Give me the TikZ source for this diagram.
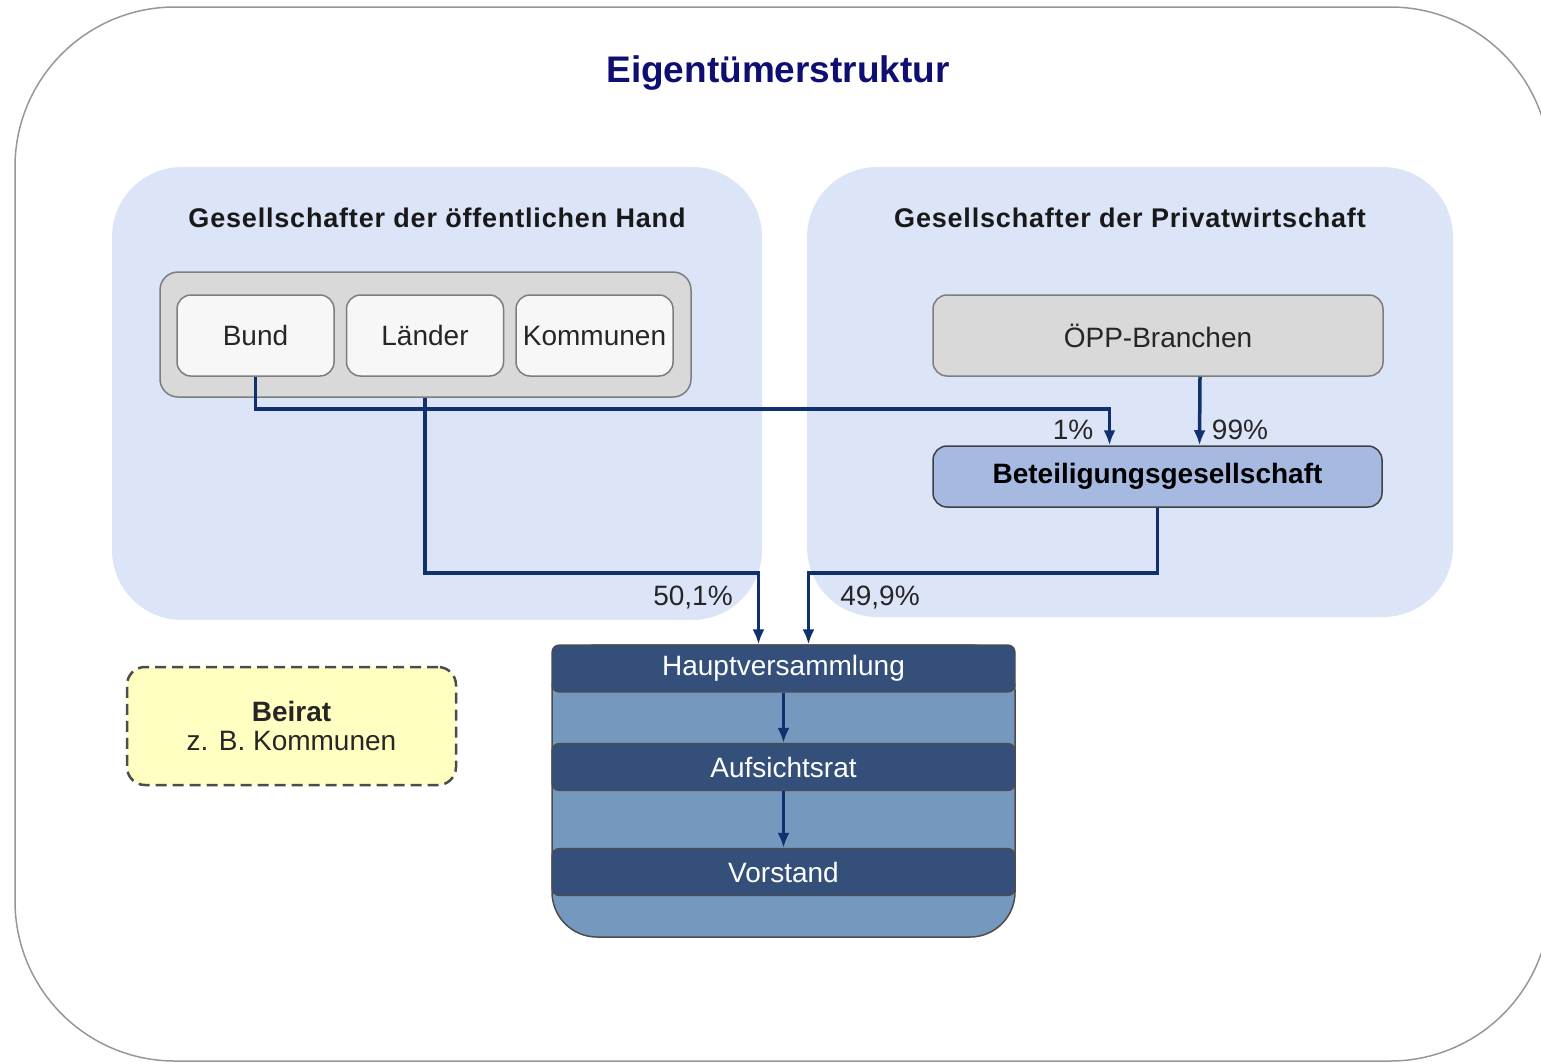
\documentclass[tikz,border=0pt]{standalone}
\usepackage{fontspec}
\setmainfont{Liberation Sans}
\newfontfamily\headfont[LetterSpace=3]{Liberation Sans}
\usetikzlibrary{arrows.meta}

\definecolor{panelblue}{RGB}{220,229,248}
\definecolor{groupgray}{RGB}{217,217,217}
\definecolor{memberwhite}{RGB}{247,247,247}
\definecolor{edgegray}{RGB}{125,125,125}
\definecolor{linkblue}{RGB}{16,48,112}
\definecolor{holdblue}{RGB}{166,185,225}
\definecolor{bodyblue}{RGB}{117,152,190}
\definecolor{bardark}{RGB}{52,80,122}
\definecolor{advyellow}{RGB}{255,255,194}
\definecolor{titleblue}{RGB}{14,14,115}

\tikzset{
  textsize/.style = {font=\fontsize{28}{33}\selectfont},
  panel/.style    = {shape=rectangle, rounded corners=70pt, fill=panelblue, inner sep=0pt},
  paneltitle/.style = {font=\headfont\fontsize{27}{32}\selectfont\bfseries, text=black!90},
  member/.style   = {shape=rectangle, rounded corners=14pt, draw=edgegray, line width=1.5pt,
                     fill=memberwhite, textsize, text=black!85, inner sep=3pt,
                     minimum width=157pt, minimum height=81pt},
  group/.style    = {member, fill=groupgray, rounded corners=18pt},
  holding/.style  = {member, fill=holdblue, draw=black!75, font=\fontsize{28}{33}\selectfont\bfseries,
                     text=black},
  bar/.style      = {shape=rectangle, rounded corners=7pt, draw=black!70, line width=1.2pt,
                     fill=bardark, text=white, textsize, minimum width=463pt, minimum height=47pt,
                     inner sep=0pt},
  share/.style    = {textsize, text=black!85, inner sep=0pt},
  link/.style     = {draw=linkblue, line width=3.5pt, -{Latex[length=15pt,width=12pt]}}
}

\begin{document}
\begin{tikzpicture}[x=1pt, y=-1pt]
\clip (0,0) rectangle (1541,1063);
\draw[edgegray!80, line width=1.5pt, rounded corners=160pt] (15,7) rectangle (1550,1061);
\node[font=\fontsize{37}{42}\selectfont\bfseries, text=titleblue] (title) at (778,73) {Eigentümerstruktur};

\node[panel, minimum width=650pt, minimum height=453pt] (pubpanel) at (437,393.5) {};
\node[panel, minimum width=646pt, minimum height=450pt] (privpanel) at (1130,392) {};
\node[paneltitle] (pubtitle) at (437,218) {Gesellschafter der öffentlichen Hand};
\node[paneltitle] (privtitle) at (1130,218) {Gesellschafter der Privatwirtschaft};

\node[group, minimum width=531pt, minimum height=125pt] (pubgroup) at (425.5,334.5) {};
\node[member] (bund) at (255.5,335.5) {Bund};
\node[member] (laender) at (425,335.5) {Länder};
\node[member] (kommunen) at (594.5,335.5) {Kommunen};

\node[member, fill=groupgray, minimum width=450pt] (oepp) at (1158,335.5) {ÖPP-Branchen};
\node[holding, minimum width=449pt, minimum height=61pt] (holding) at (1157.5,476.5) {Beteiligungsgesellschaft};

\node[shape=rectangle, rounded corners=45pt, draw=black!70, line width=1.5pt, fill=bodyblue,
      minimum width=463pt, minimum height=292pt] (body) at (783.5,791) {};
\node[bar] (hv) at (783.5,668.5) {Hauptversammlung};
\node[bar] (ar) at (783.5,767) {Aufsichtsrat};
\node[bar] (vs) at (783.5,872) {Vorstand};

\node[shape=rectangle, rounded corners=18pt, draw=black!70, line width=2.5pt,
      dash pattern=on 11pt off 6pt, fill=advyellow, textsize, text=black!85, align=center,
      minimum width=329pt, minimum height=118pt] (beirat) at (291.5,726)
      {\textbf{Beirat}\\[-4pt]z. B. Kommunen};

\draw[link] (bund.south) -- ++(0,32) -| ([xshift=-48pt]holding.north);
\draw[link] ([xshift=42pt]oepp.south) -- ([xshift=42pt]holding.north);
\draw[link] (laender |- pubgroup.south) -- ++(0,175) -| ([xshift=-25pt]hv.north);
\draw[link] (holding.south) -- ++(0,65) -| ([xshift=25pt]hv.north);
\draw[link] (hv) -- (ar);
\draw[link] (ar) -- (vs);

\node[share] (one) at (1073,430) {1\%};
\node[share] (ninetynine) at (1240,430) {99\%};
\node[share] (fiftyone) at (693,598) {50,1\%};
\node[share] (fortynine) at (880,598) {49,9\%};
\end{tikzpicture}
\end{document}
